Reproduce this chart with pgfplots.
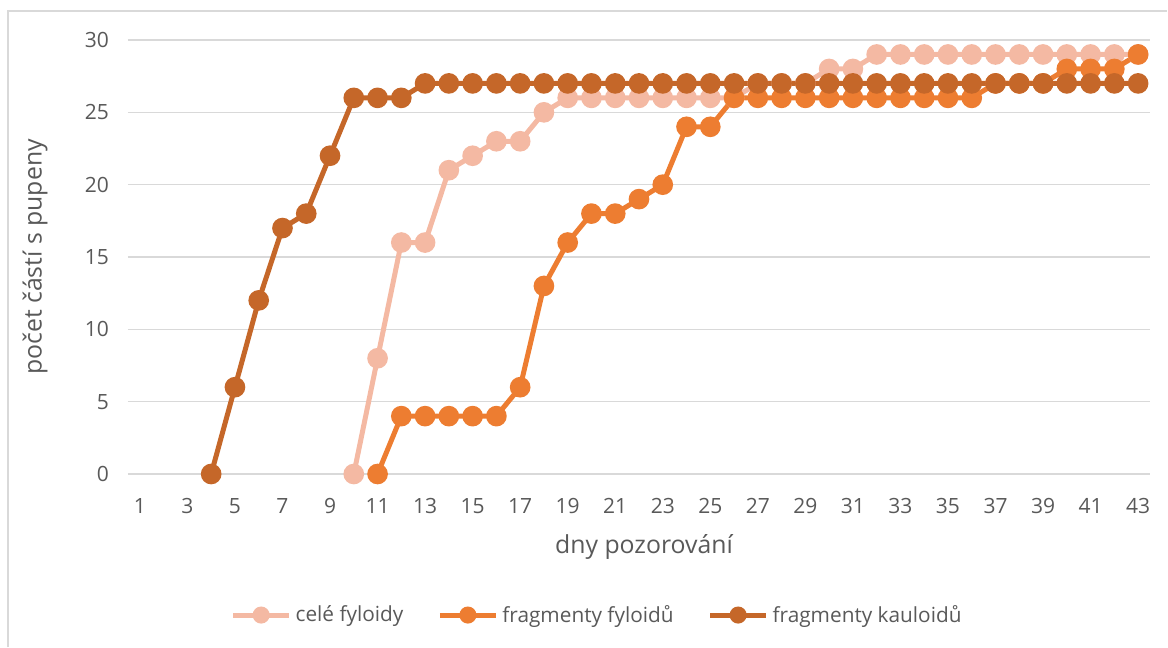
\documentclass[border=0pt]{standalone}
\usepackage{fontspec}
\setmainfont{Open Sans}
\usepackage{pgfplots}
\pgfplotsset{compat=1.18}
\definecolor{lightor}{RGB}{244,185,163}
\definecolor{midor}{RGB}{237,125,49}
\definecolor{darkor}{RGB}{197,103,41}
\definecolor{txt}{RGB}{89,89,89}
\definecolor{gridc}{RGB}{217,217,217}

\begin{document}
\begin{tikzpicture}[font=\fontsize{10.5}{12}\selectfont]
\begin{axis}[
    width=511pt, height=217pt,
    scale only axis,
    xmin=0.5, xmax=43.5,
    ymin=0, ymax=30,
    xtick={1,3,...,43},
    ytick={0,5,...,30},
    axis line style={draw=none},
    major tick length=0pt,
    ymajorgrids=true,
    grid style={gridc, line width=0.75pt},
    /pgf/number format/assume math mode=true,
    ticklabel style={text=txt, font=\fontsize{10.5}{12}\selectfont},
    yticklabel style={xshift=-6pt},
    xticklabel style={yshift=-8.5pt},
    xlabel={dny pozorování},
    ylabel={počet částí s pupeny},
    label style={text=txt, font=\fontsize{12.4}{14}\selectfont},
    xlabel style={at={(rel axis cs:0.5,0)}, anchor=center, yshift=-36.5pt, xshift=2.5pt},
    ylabel style={at={(rel axis cs:0,0.5)}, anchor=center, yshift=46.5pt},
    every axis plot/.append style={line width=2.5pt, mark=*, mark size=3.9pt},
    legend style={at={(0.46,-0.325)}, anchor=center, draw=none, fill=none,
        legend columns=3, text=txt, font=\fontsize{10.4}{12}\selectfont,
        /tikz/every even column/.append style={column sep=15pt},
        inner sep=0pt},
    legend cell align=left,
    legend image code/.code={
        \draw[#1, mark=none] (0pt,0pt) -- (28pt,0pt);
        \path[#1, mark size=3pt] plot coordinates {(14pt,0pt)};
    },
    clip=false,
]
% celé fyloidy
\addplot[color=lightor, mark options={fill=lightor, draw=none}] coordinates {
    (10,0) (11,8) (12,16) (13,16) (14,21) (15,22) (16,23) (17,23) (18,25)
    (19,26) (20,26) (21,26) (22,26) (23,26) (24,26) (25,26) (26,26)
    (27,27) (28,27) (29,27) (30,28) (31,28) (32,29) (33,29) (34,29) (35,29)
    (36,29) (37,29) (38,29) (39,29) (40,29) (41,29) (42,29) (43,29)};
% fragmenty fyloidů
\addplot[color=midor, mark options={fill=midor, draw=none}] coordinates {
    (11,0) (12,4) (13,4) (14,4) (15,4) (16,4) (17,6) (18,13) (19,16) (20,18)
    (21,18) (22,19) (23,20) (24,24) (25,24) (26,26) (27,26) (28,26) (29,26)
    (30,26) (31,26) (32,26) (33,26) (34,26) (35,26) (36,26) (37,27) (38,27)
    (39,27) (40,28) (41,28) (42,28) (43,29)};
% fragmenty kauloidů
\addplot[color=darkor, mark options={fill=darkor, draw=none}] coordinates {
    (4,0) (5,6) (6,12) (7,17) (8,18) (9,22) (10,26) (11,26) (12,26)
    (13,27) (14,27) (15,27) (16,27) (17,27) (18,27) (19,27) (20,27) (21,27)
    (22,27) (23,27) (24,27) (25,27) (26,27) (27,27) (28,27) (29,27) (30,27)
    (31,27) (32,27) (33,27) (34,27) (35,27) (36,27) (37,27) (38,27) (39,27)
    (40,27) (41,27) (42,27) (43,27)};
\legend{celé fyloidy, fragmenty fyloidů, fragmenty kauloidů}
\end{axis}
\draw[gridc, line width=0.75pt]
    ([shift={(-60pt,-86.5pt)}]current axis.south west) --
    ([shift={(-60pt,231.5pt)}]current axis.south west) --
    ([shift={(519.5pt,231.5pt)}]current axis.south west);
\useasboundingbox ([shift={(-64pt,-87pt)}]current axis.south west)
    rectangle ([shift={(520pt,237pt)}]current axis.south west);
\end{tikzpicture}
\end{document}
